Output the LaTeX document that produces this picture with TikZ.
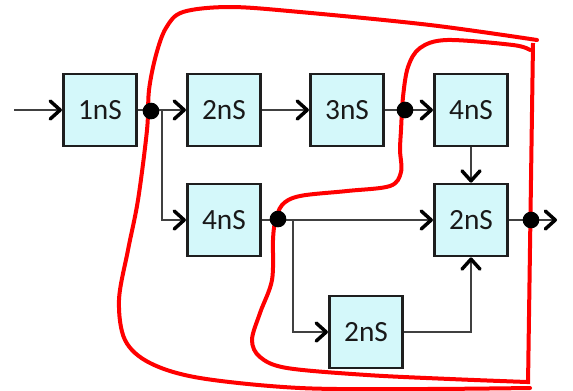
\documentclass[tikz,border=0pt]{standalone}
\usepackage{fontspec}
\setmainfont{Carlito}
\usetikzlibrary{arrows.meta}
\definecolor{boxfill}{RGB}{212,248,250}
\definecolor{boxline}{RGB}{30,30,30}
\definecolor{connline}{RGB}{64,64,64}
\definecolor{loopred}{RGB}{255,0,0}
\tikzset{
  blk/.style={draw=boxline, fill=boxfill, line width=2.1pt, minimum width=55pt, minimum height=54pt, inner sep=0pt, font=\fontsize{22}{26}\selectfont, text=black!90},
  conn/.style={draw=connline, line width=1.1pt, -{Straight Barb[length=7.5pt,width=13.5pt,line width=2.6pt,round,color=black]}},
  dot/.style={circle, fill=black, minimum size=12.5pt, inner sep=0pt},
  redline/.style={draw=loopred, line width=3pt, line cap=round, line join=round}
}
\begin{document}
\begin{tikzpicture}[x=0.75pt,y=-0.75pt]
\useasboundingbox (0,0) rectangle (573,390);
% boxes
\node[blk] (b1) at (100,110) {1nS};
\node[blk] (b2) at (224,110) {2nS};
\node[blk] (b3) at (347,110) {3nS};
\node[blk] (b4) at (471,110) {4nS};
\node[blk] (m4) at (224,220) {4nS};
\node[blk] (r2) at (471,220) {2nS};
\node[blk] (l2) at (366,332) {2nS};
% free ends and junctions
\coordinate (in) at (14,110);
\coordinate (out) at (557,220);
\coordinate (j1) at (162,110);
\coordinate (j2) at (293,220);
% connectors
\draw[conn] (in) -- (b1);
\draw[conn] (b1) -- (b2);
\draw[conn] (j1) |- (m4.west);
\draw[conn] (b2) -- (b3);
\draw[conn] (b3) -- (b4);
\draw[conn] (b4) -- (r2);
\draw[conn] (m4) -- (r2);
\draw[conn] (j2) |- (l2.west);
\draw[conn] (l2.east) -| (r2.south);
\draw[conn] (r2) -- (out);
% red loops
\draw[redline] plot[smooth, tension=0.55] coordinates {(537,40) (430,25) (300,12) (230,7) (183,12) (166,28) (156,55) (149,90) (147,130) (138,200) (128,250) (119,300) (125,340) (150,363) (200,378) (300,388) (420,389) (530,388)};
\draw[redline] plot[smooth, tension=0.55] coordinates {(530,50) (513,45) (447,40) (420,48) (408,67) (403,97) (401,130) (400,150) (401,172) (390,186) (347,191) (300,196) (282,205) (275,223) (273,240) (272,280) (260,313) (252,340) (260,357) (287,368) (367,375) (450,379) (527,382)};
\draw[redline, line cap=butt] (533,43) -- (528,384);
% junction dots
\node[dot] (d1) at (151,111) {};
\node[dot] (d2) at (405,110) {};
\node[dot] (d3) at (278,219) {};
\node[dot] (d4) at (531,220) {};
\end{tikzpicture}
\end{document}
